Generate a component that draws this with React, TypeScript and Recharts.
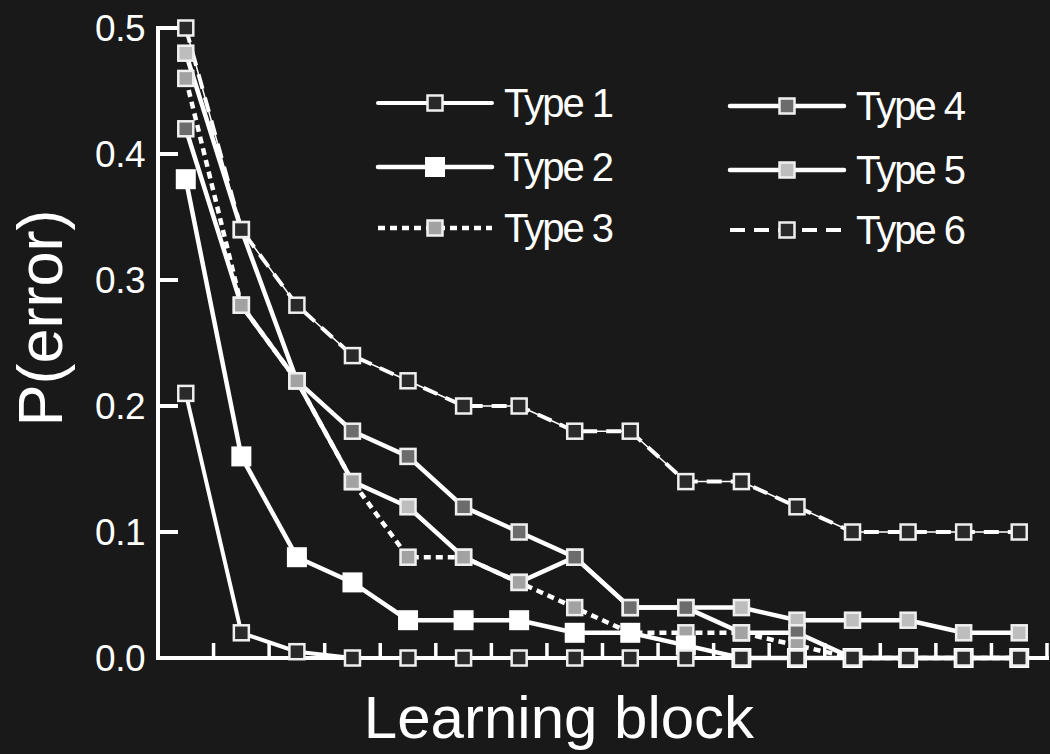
import React from 'react';
import { LineChart, Line, XAxis, YAxis, Legend } from 'recharts';

const blocks = [1, 2, 3, 4, 5, 6, 7, 8, 9, 10, 11, 12, 13, 14, 15, 16];
const type1 = [0.21, 0.02, 0.005, 0, 0, 0, 0, 0, 0, 0, 0, 0, 0, 0, 0, 0];
const type2 = [0.38, 0.16, 0.08, 0.06, 0.03, 0.03, 0.03, 0.02, 0.02, 0.01, 0, 0, 0, 0, 0, 0];
const type3 = [0.46, 0.28, 0.22, 0.14, 0.08, 0.08, 0.06, 0.04, 0.02, 0.02, 0.02, 0.01, 0, 0, 0, 0];
const type4 = [0.42, 0.28, 0.22, 0.18, 0.16, 0.12, 0.1, 0.08, 0.04, 0.04, 0.02, 0.02, 0, 0, 0, 0];
const type5 = [0.48, 0.34, 0.22, 0.14, 0.12, 0.08, 0.06, 0.08, 0.04, 0.04, 0.04, 0.03, 0.03, 0.03, 0.02, 0.02];
const type6 = [0.5, 0.34, 0.28, 0.24, 0.22, 0.2, 0.2, 0.18, 0.18, 0.14, 0.14, 0.12, 0.1, 0.1, 0.1, 0.1];

const seriesNames = ['Type 1', 'Type 2', 'Type 3', 'Type 4', 'Type 5', 'Type 6'];
const yTicks = [0, 0.1, 0.2, 0.3, 0.4, 0.5];
const xTicks = [1.5, 2.5, 3.5, 4.5, 5.5, 6.5, 7.5, 8.5, 9.5, 10.5, 11.5, 12.5, 13.5, 14.5, 15.5, 16.5];
const xLabel = 'Learning block';
const yLabel = 'P(error)';

const data = blocks.map((b, i) => ({
  block: b,
  t1: type1[i],
  t2: type2[i],
  t3: type3[i],
  t4: type4[i],
  t5: type5[i],
  t6: type6[i],
}));

const BG = '#191919';
const FONT = '"Liberation Sans", Arial, sans-serif';

type Style = { key: string; fill: string; size: number; border: boolean; width: number; dash?: string };
const styles: Style[] = [
  { key: 't1', fill: '#2a2a2a', size: 15, border: true, width: 4 },
  { key: 't2', fill: '#ffffff', size: 20, border: false, width: 4.5 },
  { key: 't3', fill: '#a2a2a2', size: 15, border: true, width: 4.5, dash: '7 5' },
  { key: 't4', fill: '#6c6c6c', size: 15, border: true, width: 4.5 },
  { key: 't5', fill: '#bdbdbd', size: 15, border: true, width: 4.5 },
  { key: 't6', fill: '#2a2a2a', size: 15, border: true, width: 4, dash: '15 9' },
];
const drawOrder = [4, 3, 5, 2, 1, 0];

const Marker = ({ cx, cy, s }: { cx: number; cy: number; s: Style }) => (
  <rect
    x={cx - s.size / 2}
    y={cy - s.size / 2}
    width={s.size}
    height={s.size}
    fill={s.fill}
    stroke={s.border ? '#efefef' : 'none'}
    strokeWidth={2.5}
  />
);

const makeDot = (s: Style) => (props: any) => {
  const { cx, cy, index } = props;
  if (cx == null || cy == null) return <g key={index} />;
  return <Marker key={index} cx={cx} cy={cy} s={s} />;
};

const YTick = (props: any) => {
  const { x, y, payload } = props;
  return (
    <g>
      <line x1={x} x2={x + 20} y1={y} y2={y} stroke="#fff" strokeWidth={4} />
      <text
        x={x - 13}
        y={y}
        dy="0.36em"
        textAnchor="end"
        fill="#fff"
        fontSize={37}
        fontFamily={FONT}
        letterSpacing={-0.5}
      >
        {Number(payload.value).toFixed(1)}
      </text>
    </g>
  );
};

const XTick = (props: any) => {
  const { x, y } = props;
  return <line x1={x} x2={x} y1={y} y2={y - 15} stroke="#fff" strokeWidth={3.5} />;
};

const XLabel = () => (
  <text x={559} y={738} textAnchor="middle" fill="#fff" fontSize={60} fontFamily={FONT}>
    {xLabel}
  </text>
);

const YLabel = () => (
  <text
    x={0}
    y={0}
    transform="translate(62 318) rotate(-90)"
    textAnchor="middle"
    fill="#fff"
    fontSize={63}
    fontFamily={FONT}
  >
    {yLabel}
  </text>
);

const LegendContent = () => {
  const cols = [
    { lx: 378, tx: 504, rows: [103, 167, 228] },
    { lx: 730, tx: 856, rows: [106, 170, 230] },
  ];
  return (
    <svg width={1050} height={280} style={{ position: 'absolute', left: 0, top: 0, overflow: 'visible' }}>
      {seriesNames.map((name, i) => {
        const col = cols[Math.floor(i / 3)];
        const y = col.rows[i % 3];
        const s = styles[i];
        const x0 = col.lx;
        const x1 = col.lx + 114;
        const cx = (x0 + x1) / 2;
        return (
          <g key={name}>
            <line
              x1={x0}
              x2={x1}
              y1={y}
              y2={y}
              stroke="#fff"
              strokeWidth={s.width}
              strokeDasharray={s.dash}
              strokeLinecap={s.dash ? 'butt' : 'round'}
            />
            <Marker cx={cx} cy={y} s={s} />
            <text
              x={col.tx}
              y={y + 0.36 * 40}
              fill="#fff"
              fontSize={40}
              fontFamily={FONT}
              letterSpacing={-2}
            >
              {name}
            </text>
          </g>
        );
      })}
    </svg>
  );
};

export default function App() {
  return (
    <div style={{ width: 1050, height: 754, background: BG, position: 'relative' }}>
      <style>{`body{margin:0;background:${BG};}`}</style>
      <LineChart
        width={1050}
        height={754}
        data={data}
        margin={{ top: 28, right: 3, bottom: 0, left: 0 }}
        style={{ background: BG }}
      >
        <XAxis
          dataKey="block"
          type="number"
          domain={[0.5, 16.5]}
          ticks={xTicks}
          height={96}
          tickSize={0}
          tickMargin={0}
          tickLine={false}
          axisLine={{ stroke: '#fff', strokeWidth: 4, strokeLinecap: 'square' }}
          tick={<XTick />}
          interval={0}
          allowDataOverflow
          label={<XLabel />}
        />
        <YAxis
          type="number"
          domain={[0, 0.5]}
          ticks={yTicks}
          width={158}
          tickSize={0}
          tickMargin={0}
          tickLine={false}
          axisLine={{ stroke: '#fff', strokeWidth: 4, strokeLinecap: 'square' }}
          tick={<YTick />}
          interval={0}
          label={<YLabel />}
        />
        <Legend
          layout="horizontal"
          verticalAlign="middle"
          content={<LegendContent />}
          wrapperStyle={{ left: 0, top: 0, width: 1050, height: 280, pointerEvents: 'none' }}
        />
        <Line
          key="t6-under"
          dataKey="t6"
          legendType="none"
          type="linear"
          stroke="#fff"
          strokeWidth={1.5}
          dot={false}
          activeDot={false}
          isAnimationActive={false}
        />
        {drawOrder.map((i) => {
          const s = styles[i];
          return (
            <Line
              key={s.key}
              dataKey={s.key}
              name={seriesNames[i]}
              type="linear"
              stroke="#fff"
              strokeWidth={s.width}
              strokeDasharray={s.dash}
              dot={makeDot(s)}
              activeDot={false}
              isAnimationActive={false}
            />
          );
        })}
      </LineChart>
    </div>
  );
}
